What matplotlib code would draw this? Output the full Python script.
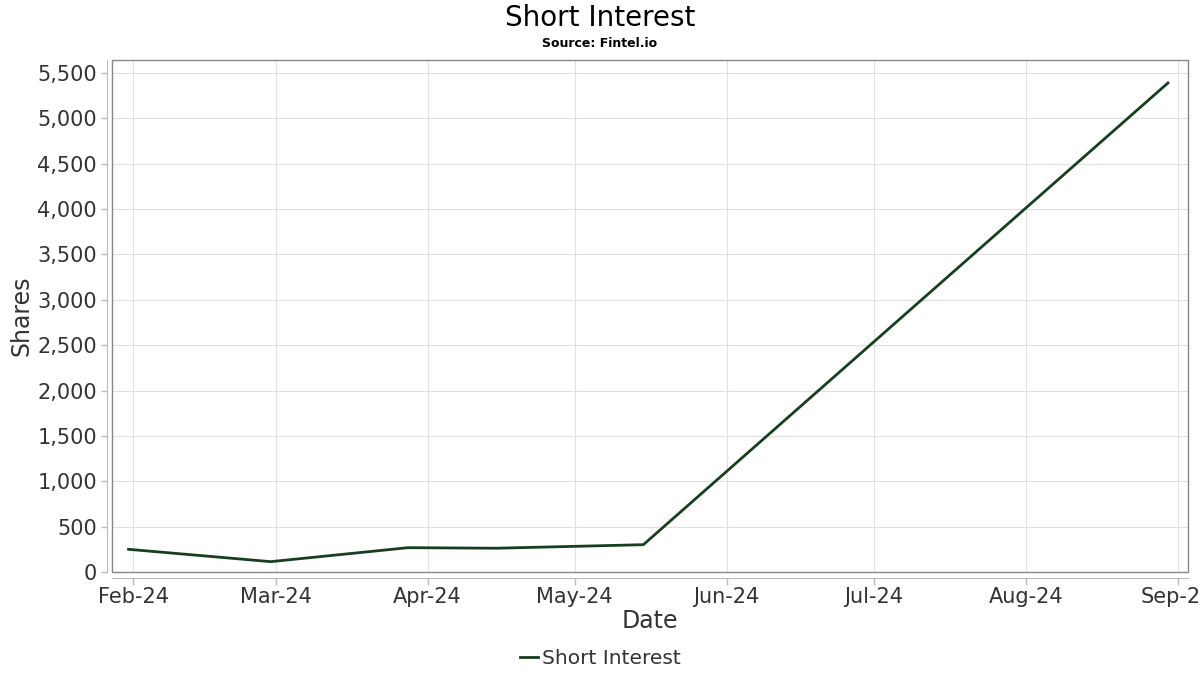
import matplotlib.pyplot as plt
import matplotlib.dates as mdates
import matplotlib.ticker as mticker
from matplotlib.patches import Rectangle
import pandas as pd

# data
dates = ["2024-01-31", "2024-02-29", "2024-03-28", "2024-04-15", "2024-05-15", "2024-08-30"]
short_interest = [250, 114, 268, 262, 301, 5391]

x = pd.to_datetime(dates)

fig = plt.figure(figsize=(12, 6.75), dpi=100, facecolor="white")
ax = fig.add_axes([0.0935, 0.1526, 0.8965, 0.7584])

line_color = "#173f1f"
text_color = "#333333"

ax.plot(x, short_interest, color=line_color, linewidth=2, label="Short Interest")

ax.set_xlim(pd.Timestamp("2024-01-27 16:00"), pd.Timestamp("2024-09-03 02:00"))
ax.set_ylim(0, 5643)

ax.xaxis.set_major_locator(mdates.MonthLocator())
ax.xaxis.set_major_formatter(mdates.DateFormatter("%b-%y"))
ax.yaxis.set_major_locator(mticker.MultipleLocator(500))
ax.yaxis.set_major_formatter(mticker.FuncFormatter(lambda v, p: f"{int(v):,}"))

ax.grid(True, color="#e0e0e0", linewidth=0.8)
ax.set_axisbelow(True)

# offset light axis lines, dark frame around the plot area
for side in ["left", "bottom"]:
    ax.spines[side].set_position(("outward", 4))
    ax.spines[side].set_color("#bbbbbb")
for side in ["top", "right"]:
    ax.spines[side].set_visible(False)
ax.add_patch(Rectangle((0, 0), 1, 1, transform=ax.transAxes, fill=False,
                       edgecolor="#888888", linewidth=1, clip_on=False, zorder=5))

ax.tick_params(axis="both", colors="#bbbbbb", labelcolor=text_color, labelsize=15,
               length=5, width=1)
ax.tick_params(axis="y", length=4, pad=3)
ax.tick_params(axis="x", pad=2)

ax.set_xlabel("Date", fontsize=17, color=text_color, labelpad=1)
ax.set_ylabel("Shares", fontsize=17, color=text_color, labelpad=3)

fig.text(0.5, 0.973, "Short Interest", ha="center", va="center", fontsize=20, color="black")
fig.text(0.5, 0.936, "Source: Fintel.io", ha="center", va="center", fontsize=9,
         fontweight="bold", color="black")

fig.legend(loc="center", bbox_to_anchor=(0.5, 0.024), frameon=False, fontsize=14.5,
           handlelength=0.9, handletextpad=0.2, labelcolor=text_color)

fig.savefig("out.png", dpi=100)
